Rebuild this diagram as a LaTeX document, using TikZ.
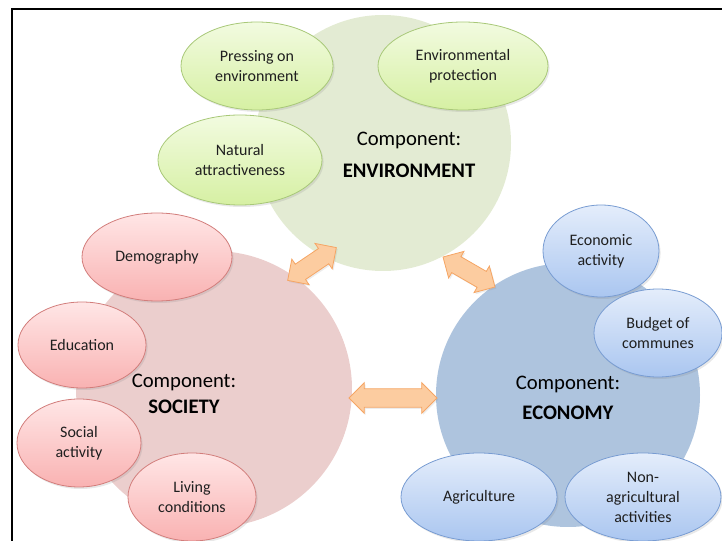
\documentclass[tikz,border=0pt]{standalone}
\usepackage{fontspec}
\setmainfont{Carlito}
\usetikzlibrary{shapes.geometric,shapes.arrows,shadows}

\definecolor{envbig}{RGB}{227,235,211}
\definecolor{socbig}{RGB}{235,206,205}
\definecolor{ecobig}{RGB}{174,196,222}
\definecolor{envtop}{RGB}{242,251,224}
\definecolor{envbot}{RGB}{214,240,163}
\definecolor{envline}{RGB}{168,200,120}
\definecolor{soctop}{RGB}{255,230,230}
\definecolor{socbot}{RGB}{249,178,178}
\definecolor{socline}{RGB}{210,125,123}
\definecolor{ecotop}{RGB}{228,237,251}
\definecolor{ecobot}{RGB}{170,198,240}
\definecolor{ecoline}{RGB}{120,156,210}
\definecolor{linkfill}{RGB}{252,204,160}
\definecolor{linkline}{RGB}{245,165,100}

\tikzset{
	bigcirc/.style={circle, inner sep=0pt},
	title/.style={align=center, font=\fontsize{15.5}{24}\selectfont},
	item/.style={ellipse, inner sep=0pt, align=center, text=black!88,
		font=\fontsize{12}{15}\selectfont, line width=0.6pt,
		drop shadow={opacity=0.18, shadow xshift=1.2pt, shadow yshift=-1.5pt}},
	envitem/.style={item, draw=envline, top color=envtop, bottom color=envbot},
	socitem/.style={item, draw=socline, top color=soctop, bottom color=socbot},
	ecoitem/.style={item, draw=ecoline, top color=ecotop, bottom color=ecobot},
	link/.style={double arrow, draw=linkline, fill=linkfill, line width=0.6pt,
		inner xsep=0pt, inner ysep=6.6pt, double arrow head extend=4.6pt,
		double arrow head indent=0pt,
		drop shadow={opacity=0.15, shadow xshift=1pt, shadow yshift=-1.2pt}}
}

\begin{document}
\begin{tikzpicture}[x=0.75pt, y=-0.75pt]
	\useasboundingbox (0,0) rectangle (722,541);
	\draw[line width=1.5pt] (12,541) -- (12,9) -- (722,9);

	% the three components
	\node[bigcirc, fill=envbig, minimum size=192pt] (env) at (383,143) {};
	\node[bigcirc, fill=socbig, minimum size=207pt] (soc) at (214,389) {};
	\node[bigcirc, fill=ecobig, minimum size=198pt] (eco) at (568,395) {};

	\node[title] (envtitle) at (409,155) {Component:\\\textbf{ENVIRONMENT}};
	\node[title, font=\fontsize{15.5}{19.5}\selectfont] (soctitle) at (184,394) {Component:\\\textbf{SOCIETY}};
	\node[title, font=\fontsize{15.5}{23}\selectfont] (ecotitle) at (568,398) {Component:\\\textbf{ECONOMY}};

	% links between components
	\node[link, minimum height=44pt, rotate=34] (linkse) at (312,264) {};
	\node[link, minimum height=45pt, rotate=-30] (linkee) at (469,272) {};
	\node[link, minimum height=66pt] (linksc) at (393,398) {};

	% environment
	\node[envitem, minimum width=114pt, minimum height=66pt] (press) at (257,66) {Pressing on\\environment};
	\node[envitem, minimum width=127.5pt, minimum height=66pt] (protect) at (463,66) {Environmental\\protection};
	\node[envitem, minimum width=123pt, minimum height=67.5pt] (nature) at (240,160) {Natural\\attractiveness};

	% society
	\node[socitem, minimum width=112.5pt, minimum height=66pt] (demo) at (157,257) {Demography};
	\node[socitem, minimum width=96pt, minimum height=64.5pt] (educ) at (82,345) {Education};
	\node[socitem, minimum width=93pt, minimum height=66pt] (social) at (79,443) {Social\\activity};
	\node[socitem, minimum width=96pt, minimum height=66pt] (living) at (192,497) {Living\\conditions};

	% economy
	\node[ecoitem, minimum width=87pt, minimum height=69pt] (ecoact) at (601,251) {Economic\\activity};
	\node[ecoitem, minimum width=96pt, minimum height=66pt] (budget) at (658,333) {Budget of\\communes};
	\node[ecoitem, minimum width=117pt, minimum height=66pt] (agri) at (479,497) {Agriculture};
	\node[ecoitem, minimum width=117pt, minimum height=66pt] (nonagri) at (643,497) {Non-\\agricultural\\activities};
\end{tikzpicture}
\end{document}
